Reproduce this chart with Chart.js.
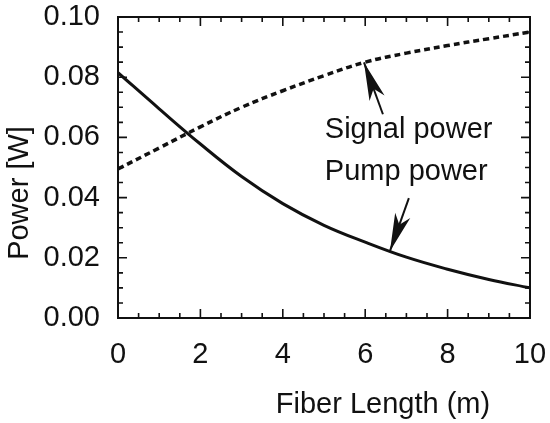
<!DOCTYPE html>
<html>
<head>
<meta charset="utf-8">
<script src="https://cdn.jsdelivr.net/npm/chart.js@4/dist/chart.umd.min.js"></script>
<style>
  html, body { margin: 0; padding: 0; background: #fff; }
  #wrap { width: 550px; height: 423px; }
</style>
</head>
<body>
<div id="wrap"><canvas id="powerChart" width="550" height="423"></canvas></div>
<script>
// fiber length (m) and powers (W)
const fiberLength = [0, 1, 2, 3, 4, 5, 6, 7, 8, 9, 10];
const pumpPower   = [0.0815, 0.0695, 0.0578, 0.0470, 0.0380, 0.0308, 0.0252, 0.0202, 0.0162, 0.0128, 0.0100];
const signalPower = [0.0495, 0.0565, 0.0635, 0.0700, 0.0755, 0.0805, 0.0850, 0.0880, 0.0905, 0.0928, 0.0950];

const xTicks = [0, 2, 4, 6, 8, 10];
const yTicks = [0.00, 0.02, 0.04, 0.06, 0.08, 0.10];

// annotation labels and their arrows (data coords)
const labels = [
  { text: "Signal power", x: 5.02, y: 0.0624 },
  { text: "Pump power",   x: 5.02, y: 0.0484 }
];
const arrows = [
  { tip: [5.97, 0.0849], tail: [6.43, 0.0677] },
  { tip: [6.60, 0.0222], tail: [7.06, 0.0398] }
];

const FONT = "'Liberation Sans', Arial, Helvetica, sans-serif";
const FSIZE = 29;

const framePlugin = {
  id: "frame",
  afterDraw(chart) {
    const ctx = chart.ctx;
    const { left, right, top, bottom } = chart.chartArea;
    const xs = chart.scales.x, ys = chart.scales.y;
    ctx.save();
    ctx.strokeStyle = "#111";
    ctx.lineWidth = 2;
    ctx.strokeRect(left, top, right - left, bottom - top);

    // inward ticks on all four sides
    ctx.lineWidth = 1.6;
    ctx.beginPath();
    for (let v = 0; v <= 10.001; v += 0.5) {
      const px = xs.getPixelForValue(v);
      const len = Math.abs(v - Math.round(v / 2) * 2) < 1e-6 ? 9 : 5;
      ctx.moveTo(px, bottom); ctx.lineTo(px, bottom - len);
      ctx.moveTo(px, top); ctx.lineTo(px, top + len);
    }
    for (let i = 0; i <= 20; i++) {
      const v = i * 0.005;
      const py = ys.getPixelForValue(v);
      const len = i % 4 === 0 ? 9 : 5;
      ctx.moveTo(left, py); ctx.lineTo(left + len, py);
      ctx.moveTo(right, py); ctx.lineTo(right - len, py);
    }
    ctx.stroke();

    // arrows
    ctx.fillStyle = "#111";
    arrows.forEach(a => {
      const tx = xs.getPixelForValue(a.tip[0]), ty = ys.getPixelForValue(a.tip[1]);
      const bx = xs.getPixelForValue(a.tail[0]), by = ys.getPixelForValue(a.tail[1]);
      const dx = bx - tx, dy = by - ty;
      const L = Math.hypot(dx, dy);
      const ux = dx / L, uy = dy / L, nx = -uy, ny = ux;
      ctx.lineWidth = 2;
      ctx.beginPath();
      ctx.moveTo(tx, ty); ctx.lineTo(bx, by);
      ctx.stroke();
      const hl = 38, hw = 8, notch = 28;
      ctx.beginPath();
      ctx.moveTo(tx, ty);
      ctx.lineTo(tx + ux * hl + nx * hw, ty + uy * hl + ny * hw);
      ctx.lineTo(tx + ux * notch, ty + uy * notch);
      ctx.lineTo(tx + ux * hl - nx * hw, ty + uy * hl - ny * hw);
      ctx.closePath();
      ctx.fill();
    });

    // annotation text
    ctx.font = FSIZE + "px " + FONT;
    ctx.textAlign = "left";
    ctx.textBaseline = "middle";
    labels.forEach(l => {
      ctx.fillText(l.text, xs.getPixelForValue(l.x), ys.getPixelForValue(l.y));
    });

    // axis titles
    ctx.textAlign = "center";
    ctx.fillText("Fiber Length (m)", 383, 405);
    ctx.translate(20, 193);
    ctx.rotate(-Math.PI / 2);
    ctx.fillText("Power [W]", 0, 0);
    ctx.restore();
  }
};

const ctx = document.getElementById("powerChart").getContext("2d");
new Chart(ctx, {
  type: "line",
  data: {
    datasets: [
      {
        label: "Signal power",
        data: fiberLength.map((x, i) => ({ x, y: signalPower[i] })),
        borderColor: "#111",
        borderWidth: 3.5,
        borderDash: [6, 4],
        pointRadius: 0,
        tension: 0.4,
        fill: false
      },
      {
        label: "Pump power",
        data: fiberLength.map((x, i) => ({ x, y: pumpPower[i] })),
        borderColor: "#111",
        borderWidth: 3,
        pointRadius: 0,
        tension: 0.4,
        fill: false
      }
    ]
  },
  options: {
    responsive: false,
    animation: false,
    layout: { padding: { top: 17, right: 20, left: 0, bottom: 0 } },
    plugins: { legend: { display: false }, tooltip: { enabled: false } },
    scales: {
      x: {
        type: "linear",
        min: 0, max: 10,
        afterFit: s => { s.height = 105; s.paddingLeft = 0; s.paddingRight = 0; },
        afterBuildTicks: s => { s.ticks = xTicks.map(v => ({ value: v })); },
        grid: { display: false, drawTicks: false },
        border: { display: false },
        ticks: { color: "#111", padding: 20, maxRotation: 0, font: { family: FONT, size: FSIZE } }
      },
      y: {
        type: "linear",
        min: 0, max: 0.1,
        afterFit: s => { s.width = 118; s.paddingTop = 0; s.paddingBottom = 0; },
        afterBuildTicks: s => { s.ticks = yTicks.map(v => ({ value: v })); },
        grid: { display: false, drawTicks: false },
        border: { display: false },
        ticks: {
          color: "#111", padding: 18, font: { family: FONT, size: FSIZE },
          callback: v => v.toFixed(2)
        }
      }
    }
  },
  plugins: [framePlugin]
});
</script>
</body>
</html>
